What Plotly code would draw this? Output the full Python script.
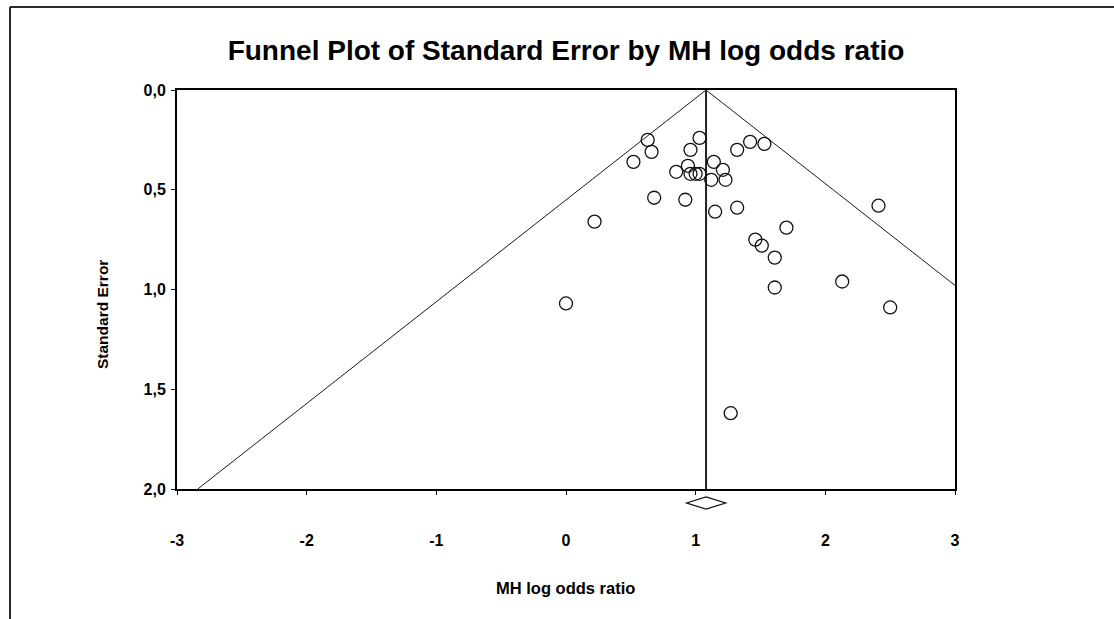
import plotly.graph_objects as go

# Study estimates: Mantel-Haenszel log odds ratio and its standard error
log_or = [0.63, 0.66, 0.52, 1.03, 0.96, 1.32, 1.42, 1.53, 1.14, 0.94, 0.85,
          0.96, 1.00, 1.03, 1.21, 1.12, 1.23, 0.68, 0.92, 1.32, 1.15, 0.22,
          1.70, 1.46, 1.51, 1.61, 1.61, 0.00, 2.41, 2.13, 2.50, 1.27]
std_err = [0.25, 0.31, 0.36, 0.24, 0.30, 0.30, 0.26, 0.27, 0.36, 0.38, 0.41,
           0.42, 0.42, 0.42, 0.40, 0.45, 0.45, 0.54, 0.55, 0.59, 0.61, 0.66,
           0.69, 0.75, 0.78, 0.84, 0.99, 1.07, 0.58, 0.96, 1.09, 1.62]

# Pooled estimate and its confidence interval (diamond)
pooled = 1.08
pooled_ci = [0.93, 1.23]
z95 = 1.96

x_ticks = [-3, -2, -1, 0, 1, 2, 3]
x_tick_text = ["-3", "-2", "-1", "0", "1", "2", "3"]
y_ticks = [0.0, 0.5, 1.0, 1.5, 2.0]
y_tick_text = ["0,0", "0,5", "1,0", "1,5", "2,0"]

W, H = 1114, 619
L, R, T, B = 177, 159, 90, 130
plot_w, plot_h = W - L - R, H - T - B


def px(xp):
    return (xp - L) / plot_w


def py(yp):
    return (H - B - yp) / plot_h


FONT = "Liberation Sans, Arial, sans-serif"
se_max = y_ticks[-1]

fig = go.Figure()

# 95% pseudo-confidence funnel
fig.add_trace(go.Scatter(
    x=[pooled - z95 * se_max, pooled, pooled + z95 * se_max],
    y=[se_max, 0, se_max],
    mode="lines", line=dict(color="#1a1a1a", width=1),
    hoverinfo="skip", showlegend=False))

# Pooled effect line
fig.add_trace(go.Scatter(
    x=[pooled, pooled], y=[0, se_max],
    mode="lines", line=dict(color="#222222", width=2),
    hoverinfo="skip", showlegend=False))

# Individual studies
fig.add_trace(go.Scatter(
    x=log_or, y=std_err, mode="markers",
    marker=dict(symbol="circle-open", size=13, color="#111111",
                line=dict(width=1.3, color="#111111")),
    showlegend=False))

axis_common = dict(
    showline=True, mirror=True, linecolor="#000000", linewidth=2,
    ticks="outside", ticklen=4, tickwidth=1, tickcolor="#000000",
    showgrid=False, zeroline=False,
    tickfont=dict(family=FONT, size=16, color="#000000", weight="bold"),
)

fig.update_xaxes(range=[-3, 3], tickvals=x_ticks, ticktext=x_tick_text,
                 ticklabelstandoff=32, **axis_common)
fig.update_yaxes(range=[2, 0], tickvals=y_ticks, ticktext=y_tick_text,
                 ticklabelstandoff=2, **axis_common)

# Diamond for pooled estimate below the x axis
dy_mid, dy_half = py(503), (py(497) - py(509)) / 2
diamond = (f"M {pooled_ci[0]},{dy_mid} L {pooled},{dy_mid + dy_half} "
           f"L {pooled_ci[1]},{dy_mid} L {pooled},{dy_mid - dy_half} Z")

shapes = [
    dict(type="path", path=diamond, xref="x", yref="paper",
         line=dict(color="#111111", width=1.3)),
    # outer frame (top and left edges)
    dict(type="line", xref="paper", yref="paper",
         x0=px(10), x1=px(W), y0=py(7), y1=py(7),
         line=dict(color="#2a2a2a", width=2)),
    dict(type="line", xref="paper", yref="paper",
         x0=px(10), x1=px(10), y0=py(7), y1=py(H),
         line=dict(color="#2a2a2a", width=2)),
]

annotations = [
    dict(text="MH log odds ratio", xref="paper", yref="paper",
         x=px(565), y=py(588), xanchor="center", yanchor="middle",
         showarrow=False,
         font=dict(family=FONT, size=16.5, color="#000000", weight="bold")),
    dict(text="Standard Error", xref="paper", yref="paper",
         x=px(102), y=py(315), xanchor="center", yanchor="middle",
         textangle=-90, showarrow=False,
         font=dict(family="Liberation Sans Narrow, Arial Narrow, " + FONT,
                   size=15.5, color="#000000", weight="bold")),
]

fig.update_layout(
    width=W, height=H,
    margin=dict(l=L, r=R, t=T, b=B),
    paper_bgcolor="#ffffff", plot_bgcolor="#ffffff",
    title=dict(text="Funnel Plot of Standard Error by MH log odds ratio",
               x=0.5, xref="paper", xanchor="center",
               y=1 - 50 / H, yref="container", yanchor="middle",
               font=dict(family=FONT, size=28, color="#000000",
                         weight="bold")),
    shapes=shapes, annotations=annotations,
)

fig.write_html("out.html")
